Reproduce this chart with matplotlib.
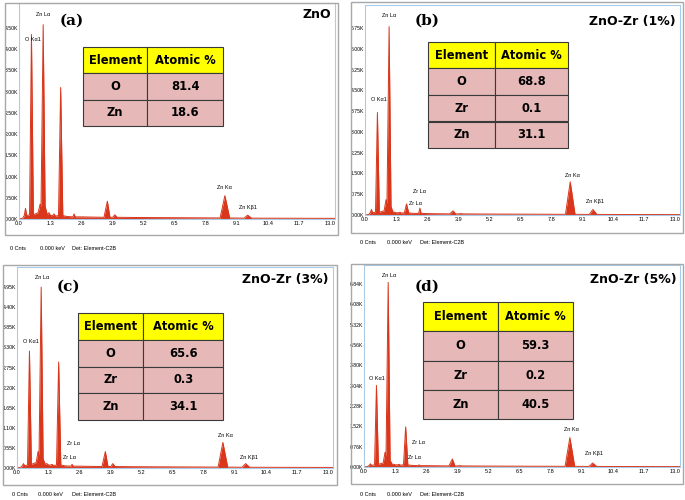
import matplotlib.pyplot as plt
from matplotlib.patches import Rectangle

W, H = 685, 500

# energy grid (keV) shared by the four spectra
energy = [0.0, 0.15, 0.22, 0.27, 0.32, 0.44, 0.52, 0.60, 0.80, 0.88, 0.92, 1.01,
          1.09, 1.18, 1.25, 1.32, 1.40, 1.46, 1.52, 1.65, 1.74, 1.83, 2.00, 2.25,
          2.30, 2.35, 2.60, 3.55, 3.69, 3.80, 3.92, 4.00, 4.10, 5.00, 8.40, 8.60,
          8.80, 9.40, 9.55, 9.72, 13.2]

# counts in thousands (K)
counts_a = [0.0, 0.02, 0.08, 0.25, 0.08, 0.10, 4.35, 0.10, 0.15, 0.35, 0.30, 4.58,
            0.30, 0.10, 0.15, 0.08, 0.08, 0.12, 0.07, 0.08, 3.10, 0.08, 0.06, 0.05,
            0.12, 0.05, 0.05, 0.04, 0.42, 0.04, 0.04, 0.10, 0.04, 0.035, 0.025, 0.55,
            0.025, 0.02, 0.09, 0.02, 0.015]
counts_b = [0.0, 0.02, 0.08, 0.20, 0.08, 0.10, 3.70, 0.10, 0.15, 0.55, 0.40, 6.80,
            0.30, 0.10, 0.10, 0.08, 0.08, 0.10, 0.07, 0.08, 0.40, 0.08, 0.06, 0.06,
            0.25, 0.06, 0.05, 0.04, 0.15, 0.04, 0.04, 0.05, 0.04, 0.035, 0.025, 1.20,
            0.025, 0.02, 0.20, 0.02, 0.015]
counts_c = [0.0, 0.02, 0.06, 0.12, 0.06, 0.08, 3.20, 0.10, 0.15, 0.45, 0.35, 4.95,
            0.25, 0.10, 0.12, 0.08, 0.08, 0.10, 0.07, 0.08, 2.90, 0.08, 0.06, 0.05,
            0.10, 0.05, 0.05, 0.04, 0.45, 0.04, 0.04, 0.12, 0.04, 0.035, 0.025, 0.70,
            0.025, 0.02, 0.12, 0.02, 0.015]
counts_d = [0.0, 0.02, 0.06, 0.12, 0.06, 0.08, 3.05, 0.10, 0.15, 0.55, 0.40, 6.90,
            0.25, 0.10, 0.10, 0.08, 0.08, 0.10, 0.07, 0.08, 1.50, 0.08, 0.06, 0.05,
            0.08, 0.05, 0.05, 0.04, 0.30, 0.04, 0.04, 0.05, 0.04, 0.035, 0.025, 1.10,
            0.025, 0.02, 0.15, 0.02, 0.015]

xticks = [0.0, 1.3, 2.6, 3.9, 5.2, 6.5, 7.8, 9.1, 10.4, 11.7, 13.0]
yticks_a = [0.00, 0.50, 1.00, 1.50, 2.00, 2.50, 3.00, 3.50, 4.00, 4.50]
yticks_b = [0.00, 0.75, 1.50, 2.25, 3.00, 3.75, 4.50, 5.25, 6.00, 6.75]
yticks_c = [0.00, 0.55, 1.10, 1.65, 2.20, 2.75, 3.30, 3.85, 4.40, 4.95]
yticks_d = [0.00, 0.76, 1.52, 2.28, 3.04, 3.80, 4.56, 5.32, 6.08, 6.84]

# peak labels: (text, energy, counts)
peaks_a = [("O Kα1", 0.59, 4.22), ("Zn Lα", 1.00, 4.81),
           ("Zn Kα", 8.57, 0.75), ("Zn Kβ1", 9.55, 0.28)]
peaks_b = [("O Kα1", 0.57, 4.18), ("Zn Lα", 1.00, 7.20), ("Zr Lα", 2.27, 0.86),
           ("Zr Lα", 2.10, 0.40), ("Zn Kα", 8.68, 1.44), ("Zn Kβ1", 9.62, 0.47)]
peaks_c = [("O Kα1", 0.59, 3.45), ("Zn Lα", 1.05, 5.20), ("Zr Lα", 2.35, 0.66),
           ("Zr Lα", 2.18, 0.30), ("Zn Kα", 8.72, 0.88), ("Zn Kβ1", 9.68, 0.30)]
peaks_d = [("O Kα1", 0.56, 3.30), ("Zn Lα", 1.04, 7.15), ("Zr Lα", 2.26, 0.90),
           ("Zr Lα", 2.13, 0.37), ("Zn Kα", 8.65, 1.39), ("Zn Kβ1", 9.62, 0.49)]

elements_a = ["O", "Zn"]
atomic_a = ["81.4", "18.6"]
elements_b = ["O", "Zr", "Zn"]
atomic_b = ["68.8", "0.1", "31.1"]
elements_c = ["O", "Zr", "Zn"]
atomic_c = ["65.6", "0.3", "34.1"]
elements_d = ["O", "Zr", "Zn"]
atomic_d = ["59.3", "0.2", "40.5"]

RED = "#D9361B"
SMALL = "Liberation Sans"

fig = plt.figure(figsize=(W / 100, H / 100), dpi=100)


def fx(x):
    return x / W


def fy(y):
    return 1 - y / H


def panel(frame, box, ylim_top, counts, yticks, peaks, elements, atomic,
          table_box, col_split, tag, tag_xy, title, title_xy, footer_y, footer_x):
    # outer grey frame
    fx0, fy0, fx1, fy1 = frame
    fig.patches.append(Rectangle((fx(fx0), fy(fy1)), fx(fx1 - fx0), (fy1 - fy0) / H,
                                 transform=fig.transFigure, fill=False,
                                 edgecolor="#A8A8A8", linewidth=1.0))
    l, t, r, b = box
    ax = fig.add_axes([fx(l), fy(b), fx(r - l), (b - t) / H])
    ax.fill_between(energy, counts, 0, color=RED, linewidth=0)
    ax.plot(energy, counts, color=RED, linewidth=0.7)
    ax.set_xlim(0, 13.2)
    ax.set_ylim(0, ylim_top)
    ax.set_xticks(xticks)
    ax.set_xticklabels([f"{v:.1f}" for v in xticks], family=SMALL, fontsize=4.0)
    ax.set_yticks(yticks)
    ax.set_yticklabels([f"{v:.2f}K" for v in yticks], family=SMALL, fontsize=3.7)
    ax.tick_params(length=0, pad=1.5)
    ax.tick_params(axis="y", pad=0.8)
    for s in ax.spines.values():
        s.set_color("#A9CBE8")
        s.set_linewidth(0.8)
    for txt, xe, yc in peaks:
        ax.text(xe, yc, txt, ha="center", va="center", family=SMALL, fontsize=4.0)

    # composition table
    tx0, ty0, tx1, ty1 = table_box
    bbox = [(tx0 - l) / (r - l), (b - ty1) / (b - t),
            (tx1 - tx0) / (r - l), (ty1 - ty0) / (b - t)]
    rows = [["Element", "Atomic %"]] + [[e, a] for e, a in zip(elements, atomic)]
    colours = [["#FFFF00", "#FFFF00"]] + [["#E6B9B8", "#E6B9B8"]] * len(elements)
    tab = ax.table(cellText=rows, cellColours=colours, bbox=bbox,
                   colWidths=[col_split, 1 - col_split], cellLoc="center")
    tab.auto_set_font_size(False)
    for cell in tab.get_celld().values():
        cell.set_edgecolor("#3A3A3A")
        cell.set_linewidth(0.8)
        cell.get_text().set_fontsize(8.3)
        cell.get_text().set_fontweight("bold")

    fig.text(fx(tag_xy[0]), fy(tag_xy[1]), tag, family="DejaVu Serif",
             fontweight="bold", fontsize=11, ha="center", va="center")
    fig.text(fx(title_xy[0]), fy(title_xy[1]), title, fontweight="heavy",
             fontsize=9, ha="right", va="center")
    for txt, xpos in zip(["0 Cnts", "0.000 keV", "Det: Element-C2B"], footer_x):
        fig.text(fx(xpos), fy(footer_y), txt, family=SMALL, fontsize=4.0,
                 ha="left", va="center")
    return ax


panel((5, 3, 338, 235), (19, 3, 335, 219), 5.09, counts_a, yticks_a, peaks_a,
      elements_a, atomic_a, (83, 47, 223, 126), 0.46, "(a)", (72, 21),
      "ZnO", (331, 14), 248, (10, 40, 72))
panel((351, 2, 683, 233), (365, 5, 680, 215), 7.58, counts_b, yticks_b, peaks_b,
      elements_b, atomic_b, (428, 42, 568, 148), 0.48, "(b)", (427, 21),
      "ZnO-Zr (1%)", (676, 21), 243, (360, 387, 420))
panel((3, 265, 337, 485), (17, 267, 333, 468), 5.5, counts_c, yticks_c, peaks_c,
      elements_c, atomic_c, (78, 313, 223, 420), 0.45, "(c)", (68, 287),
      "ZnO-Zr (3%)", (328, 280), 494, (12, 38, 72))
panel((351, 264, 683, 484), (364, 265, 680, 467), 7.55, counts_d, yticks_d, peaks_d,
      elements_d, atomic_d, (423, 302, 573, 419), 0.50, "(d)", (427, 287),
      "ZnO-Zr (5%)", (677, 280), 494, (360, 387, 420))

fig.savefig("out.png", dpi=100)
